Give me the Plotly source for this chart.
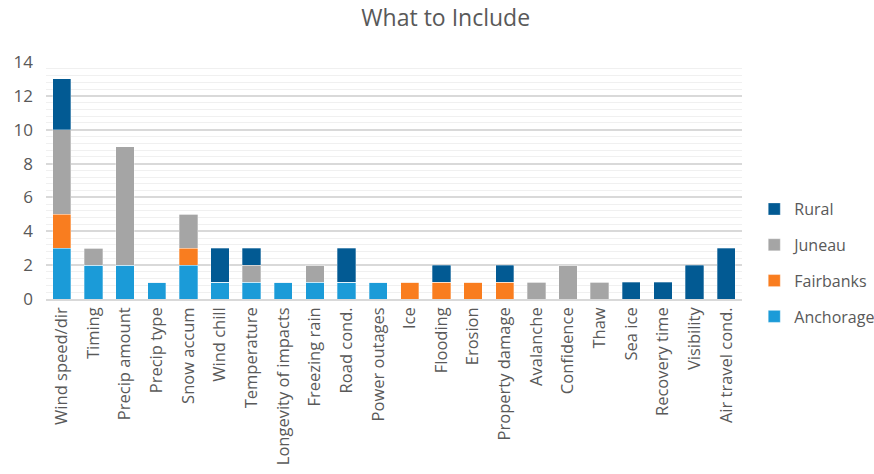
import plotly.graph_objects as go

categories = ["Wind speed/dir", "Timing", "Precip amount", "Precip type", "Snow accum",
              "Wind chill", "Temperature", "Longevity of impacts", "Freezing rain", "Road cond.",
              "Power outages", "Ice", "Flooding", "Erosion", "Property damage", "Avalanche",
              "Confidence", "Thaw", "Sea ice", "Recovery time", "Visibility", "Air travel cond."]
anchorage = [3, 2, 2, 1, 2, 1, 1, 1, 1, 1, 1, 0, 0, 0, 0, 0, 0, 0, 0, 0, 0, 0]
fairbanks = [2, 0, 0, 0, 1, 0, 0, 0, 0, 0, 0, 1, 1, 1, 1, 0, 0, 0, 0, 0, 0, 0]
juneau    = [5, 1, 7, 0, 2, 0, 1, 0, 1, 0, 0, 0, 0, 0, 0, 1, 2, 1, 0, 0, 0, 0]
rural     = [3, 0, 0, 0, 0, 2, 1, 0, 0, 2, 0, 0, 1, 0, 1, 0, 0, 0, 1, 1, 2, 3]

series = [("Anchorage", anchorage, "#1B9BD8", 4),
          ("Fairbanks", fairbanks, "#F97D1F", 3),
          ("Juneau", juneau, "#A5A5A5", 2),
          ("Rural", rural, "#025A93", 1)]

FONT = "Open Sans, Arial, sans-serif"
fig = go.Figure()
for name, vals, col, rank in series:
    fig.add_trace(go.Bar(x=categories, y=vals, name=name, legendgroup=name, legendrank=rank,
                         marker=dict(color=col, line=dict(color="rgba(255,255,255,0.6)", width=0.5))))

fig.update_layout(
    width=874, height=474,
    barmode="stack", bargap=0.42,
    paper_bgcolor="white", plot_bgcolor="white",
    margin=dict(l=46, r=132, t=62, b=175),
    title=dict(text="What to Include", x=0.51, xanchor="center", y=0.963, yanchor="middle",
               font=dict(family=FONT, size=23, color="#595959")),
    font=dict(family=FONT, color="#595959"),
    legend=dict(traceorder="grouped", tracegroupgap=12, xref="container", yref="container",
                x=0.863, xanchor="left", y=0.445, yanchor="middle",
                font=dict(family=FONT, size=16, color="#595959"), itemwidth=30),
    yaxis=dict(range=[0, 14], dtick=2, showgrid=True, gridcolor="#D9D9D9", gridwidth=1.5,
               tickfont=dict(size=17, color="#595959"), zeroline=False,
               minor=dict(dtick=0.4, showgrid=True, gridcolor="#F0F0F0", gridwidth=1),
               ticklabelstandoff=12),
    xaxis=dict(tickangle=-90, tickfont=dict(size=16.5, color="#595959"), showline=True,
               linecolor="#D9D9D9", linewidth=1.5, ticks="", automargin=False),
)
fig.write_html("out.html")
